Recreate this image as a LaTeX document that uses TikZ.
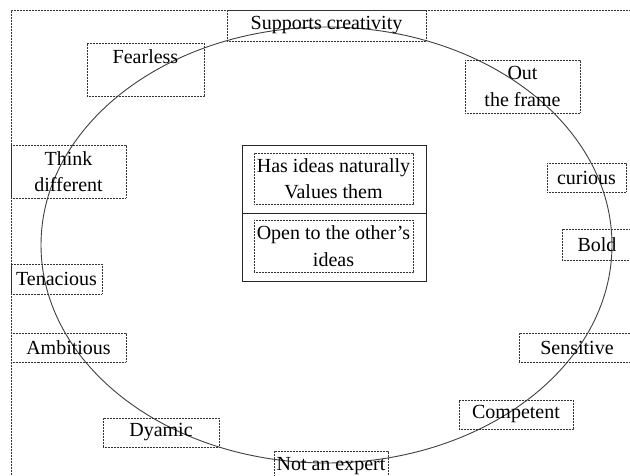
\documentclass[tikz,border=0pt]{standalone}
\usepackage{fontspec}
\setmainfont{Liberation Serif}
\newcommand\tagfont{\fontsize{20}{26.5}\selectfont}
\begin{document}
\begin{tikzpicture}[x=1pt,y=-1pt,
  dotline/.style={draw=black!80, line width=0.65pt, dash pattern=on 0.7pt off 0.8pt},
  tag/.style={dotline, inner sep=0pt, font=\tagfont, align=center},
  words/.style={inner sep=0pt, font=\tagfont, align=center},
  ring/.style={draw=black!75, line width=0.9pt}]
\useasboundingbox (0,0) rectangle (630,476);
\clip (0,0) rectangle (630,476);
\fill[white] (0,0) rectangle (630,476);

% outer dotted frame (only top and left edges fall inside the page)
\coordinate (fb) at (11,490);
\coordinate (fc) at (11,10);
\coordinate (fr) at (650,10);
\draw[dotline] (fb) -- (fc) -- (fr);

% the big ellipse
\draw[ring] (326.5,245) ellipse [x radius=285.5pt, y radius=218pt];

% surrounding qualities
\node[tag, minimum width=199pt, minimum height=31pt] (support) at (326.5,25.5) {Supports creativity};
\node[tag, minimum width=117pt, minimum height=53pt] (fearless) at (145.5,69.5) {};
\node[words] (fearlesstext) at (145.5,57) {Fearless};
\node[tag, minimum width=115pt, minimum height=53pt] (outframe) at (522.5,86.5) {Out\\the frame};
\node[tag, minimum width=115pt, minimum height=53pt] (think) at (68.5,171.5) {Think\\different};
\node[tag, minimum width=79pt, minimum height=29pt] (curious) at (586.5,177.5) {curious};
\node[tag, minimum width=70pt, minimum height=31pt] (bold) at (597,244.5) {Bold};
\node[tag, minimum width=91pt, minimum height=30pt] (tenacious) at (56.5,279) {Tenacious};
\node[tag, minimum width=115pt, minimum height=29pt] (ambitious) at (68.5,347.5) {Ambitious};
\node[tag, minimum width=116pt, minimum height=29pt] (sensitive) at (577,347.5) {Sensitive};
\node[tag, minimum width=114pt, minimum height=29pt] (competent) at (516,414.5) {Competent};
\node[tag, minimum width=116pt, minimum height=29pt] (dyamic) at (161,432.5) {Dyamic};
\node[tag, minimum width=114pt, minimum height=30pt] (notexpert) at (331,466) {Not an expert};

% central two-part box
\node[draw=black!85, line width=0.9pt, minimum width=184pt, minimum height=136pt, inner sep=0pt] (core) at (334,213) {};
\draw[draw=black!85, line width=0.9pt] (core.west) -- (core.east);
\node[tag, minimum width=159pt, minimum height=51pt] (ideas) at (333.5,178.5) {Has ideas naturally\\Values them};
\node[tag, minimum width=159pt, minimum height=52pt] (open) at (333.5,246) {Open to the other’s\\ideas};
\end{tikzpicture}
\end{document}
